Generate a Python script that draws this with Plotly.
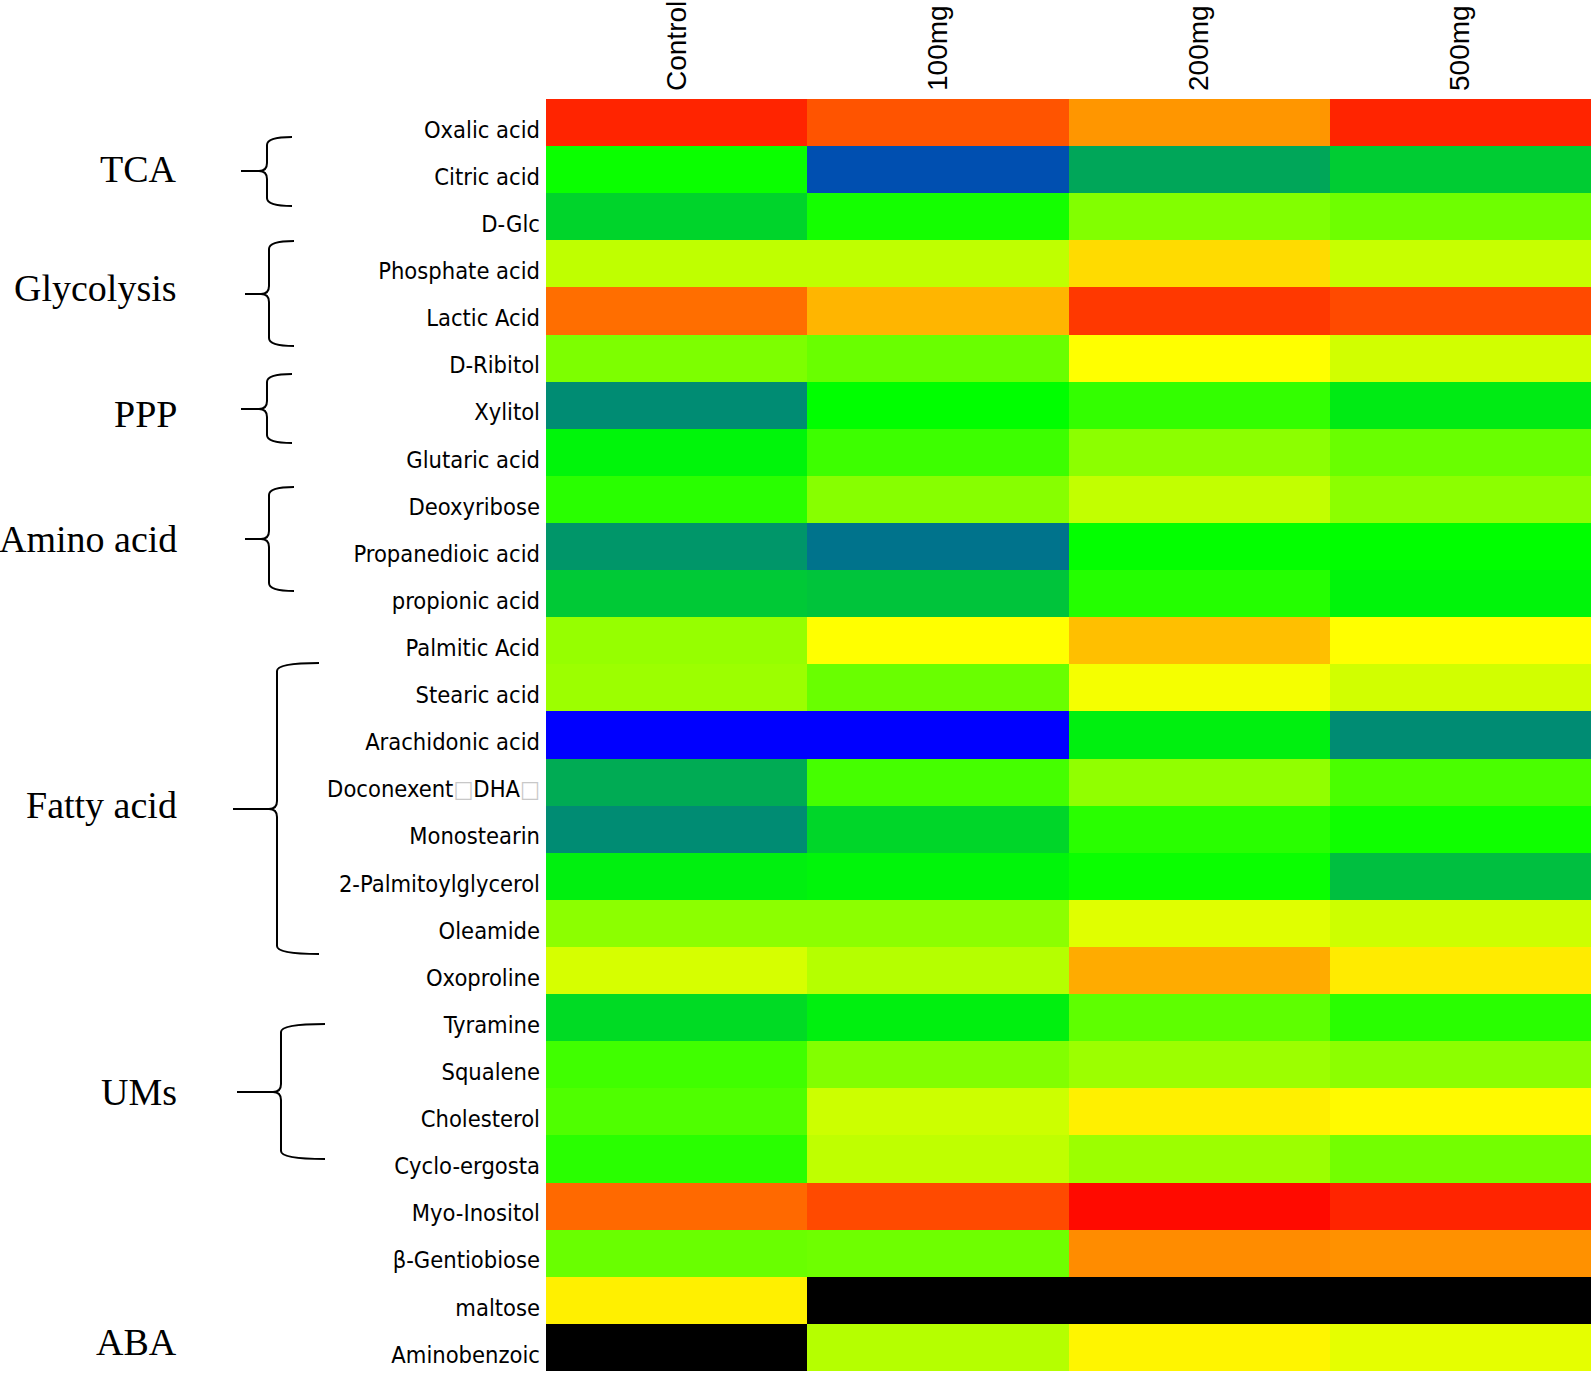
import plotly.graph_objects as go

# ---------------- data ----------------
groups = ["Control", "100mg", "200mg", "500mg"]
metabolites = [
    "Oxalic acid", "Citric acid", "D-Glc", "Phosphate acid", "Lactic Acid",
    "D-Ribitol", "Xylitol", "Glutaric acid", "Deoxyribose", "Propanedioic acid",
    "propionic acid", "Palmitic Acid", "Stearic acid", "Arachidonic acid",
    "Doconexent（DHA）", "Monostearin", "2-Palmitoylglycerol", "Oleamide",
    "Oxoproline", "Tyramine", "Squalene", "Cholesterol", "Cyclo-ergosta",
    "Myo-Inositol", "β-Gentiobiose", "maltose", "Aminobenzoic",
]
# relative level (0 = lowest / blue, 1 = green, 2 = yellow, 3 = highest / red); None = not detected
control = [2.86, 1.04, 0.83, 1.75, 2.57, 1.49, 0.55, 0.96, 1.16, 0.59,
           0.79, 1.59, 1.61, 0.00, 0.67, 0.55, 0.94, 1.55, 1.84, 0.86,
           1.25, 1.31, 1.16, 2.59, 1.41, 2.06, None]
mg100 = [2.67, 0.31, 1.08, 1.75, 2.29, 1.41, 1.00, 1.24, 1.53, 0.45,
         0.77, 2.00, 1.41, 0.00, 1.27, 0.84, 0.96, 1.55, 1.71, 0.94,
         1.51, 1.80, 1.75, 2.71, 1.43, None, 1.71]
mg200 = [2.41, 0.65, 1.51, 2.14, 2.78, 2.00, 1.20, 1.55, 1.76, 1.01,
         1.14, 2.25, 1.96, 0.94, 1.57, 1.16, 1.04, 1.88, 2.33, 1.37,
         1.61, 2.06, 1.61, 2.96, 2.45, None, 2.04]
mg500 = [2.86, 0.80, 1.43, 1.78, 2.71, 1.82, 0.92, 1.41, 1.55, 1.00,
         0.96, 2.00, 1.82, 0.55, 1.29, 1.06, 0.75, 1.80, 2.08, 1.16,
         1.55, 2.02, 1.45, 2.86, 2.43, None, 1.90]

pathways = ["TCA", "Glycolysis", "PPP", "Amino acid", "Fatty acid", "UMs", "ABA"]

# ---------------- figure ----------------
W, H = 1594, 1374
L, R, T, B = 546, 3, 99, 3
PW, PH = W - L - R, H - T - B

def px(x):
    return (x - L) / PW

def py(y):
    return (H - B - y) / PH

z = [[c, a, b, d] for c, a, b, d in zip(control, mg100, mg200, mg500)]

fig = go.Figure(go.Heatmap(
    z=z, x=groups, y=metabolites,
    zmin=0, zmax=3,
    colorscale=[[0, "#0000ff"], [1/3, "#00ff00"], [2/3, "#ffff00"], [1, "#ff0000"]],
    showscale=False, hoverongaps=False,
))

ticktext = [m.replace("（", "<span style='color:#c8c8c8'>□</span>")
             .replace("）", "<span style='color:#c8c8c8'>□</span>") for m in metabolites]

fig.update_layout(
    width=W, height=H,
    margin=dict(l=L, r=R, t=T, b=B, pad=0, autoexpand=False),
    paper_bgcolor="white", plot_bgcolor="black",
    xaxis=dict(side="top", tickangle=-90, showgrid=False, zeroline=False,
               ticks="", showline=False, ticklabelstandoff=7, automargin=False,
               tickfont=dict(family="Liberation Sans, Arial", size=28, color="black")),
    yaxis=dict(autorange="reversed", showgrid=False, zeroline=False, ticks="",
               showline=False, tickvals=metabolites, ticktext=ticktext,
               ticklabelstandoff=5, ticklabelshift=-7, automargin=False,
               tickfont=dict(family="DejaVu Sans Condensed, Liberation Sans",
                             size=23.5, color="black")),
)

# pathway labels
label_y = [169, 288, 414, 539, 805, 1092, 1342]
for name, yy in zip(pathways, label_y):
    fig.add_annotation(text=name, xref="paper", yref="paper", x=px(179), y=py(yy),
                       xanchor="right", yanchor="middle", showarrow=False,
                       font=dict(family="Liberation Serif, Times New Roman", size=38, color="black"))

# braces: (tip_x, tip_y, spine_x, arm_x, top, bottom)
braces = [
    (241, 171, 267, 292, 137, 206),
    (245, 294, 269, 294, 241, 346),
    (241, 409, 267, 292, 374, 443),
    (245, 539, 269, 294, 487, 591),
    (233, 809, 277, 319, 663, 954),
    (237, 1092, 281, 325, 1024, 1159),
]

def brace_path(tx, ty, sx, ax, top, bot, r=8):
    def p(x, y):
        return f"{px(x):.5f},{py(y):.5f}"
    return (f"M {p(ax, top)} Q {p(sx, top)} {p(sx, top + r)} "
            f"L {p(sx, ty - r)} Q {p(sx, ty)} {p(sx - r, ty)} L {p(tx, ty)} "
            f"L {p(sx - r, ty)} Q {p(sx, ty)} {p(sx, ty + r)} "
            f"L {p(sx, bot - r)} Q {p(sx, bot)} {p(ax, bot)}")

for b in braces:
    fig.add_shape(type="path", path=brace_path(*b), xref="paper", yref="paper",
                  line=dict(color="black", width=2))

fig.write_html("out.html", config={"displayModeBar": False},
               post_script="document.body.style.margin='0px';")
